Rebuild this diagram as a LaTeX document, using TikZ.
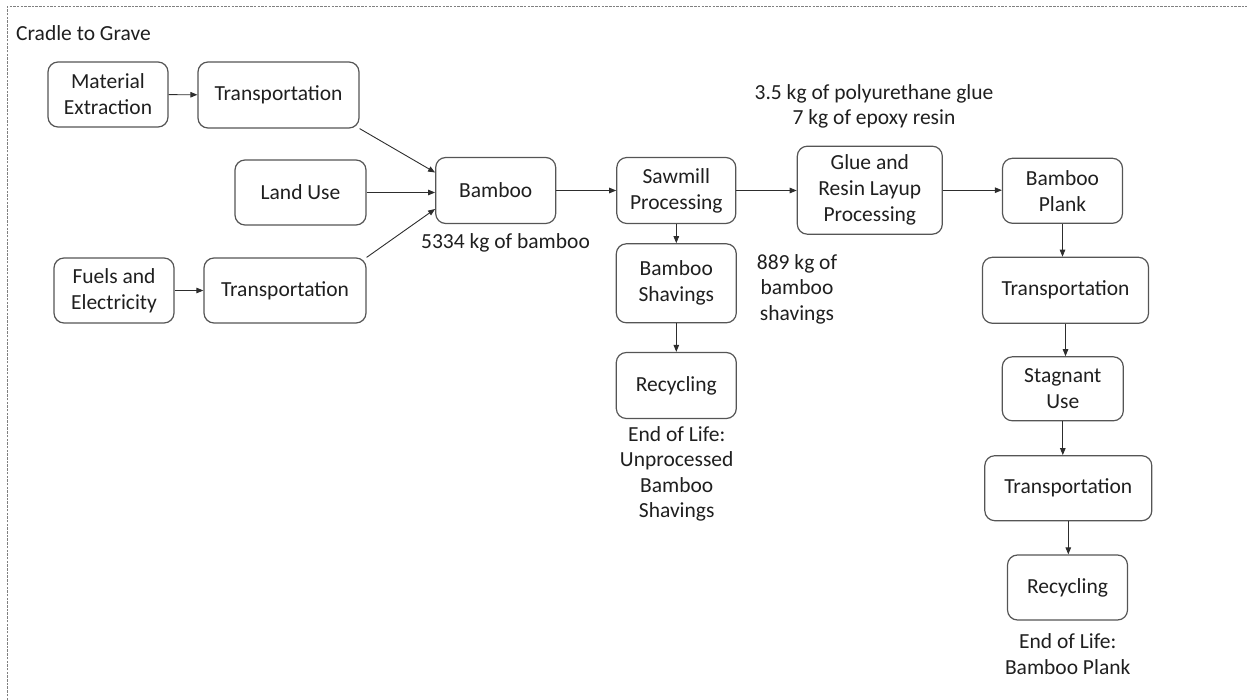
\documentclass[tikz,border=0pt]{standalone}
\usepackage{fontspec}
\setmainfont{Carlito}
\usetikzlibrary{arrows.meta,positioning}

\definecolor{boxgray}{RGB}{85,85,85}
\definecolor{linegray}{RGB}{45,45,45}

\tikzset{
  stage/.style={draw=boxgray, line width=1.2pt, rounded corners=10pt, align=center,
    inner sep=1pt, font=\fontsize{21.5}{26}\selectfont, text=black!88},
  arr/.style={draw=linegray, line width=0.9pt, -{Triangle[length=7pt,width=5.5pt]}},
  note/.style={align=center, inner sep=0pt, font=\fontsize{21.5}{25.5}\selectfont, text=black!88}
}

\begin{document}
\begin{tikzpicture}[x=1pt,y=-1pt]
    \useasboundingbox (0,0) rectangle (1247,700);
    \draw[gray, line width=1pt, dash pattern=on 2.5pt off 1.2pt] (7,700) -- (7,7) -- (1247,7);
    \node[note, anchor=west] (title) at (16,33) {Cradle to Grave};

    % inputs
    \node[stage, minimum width=120, minimum height=65] (matext) at (108,94.5) {Material\\Extraction};
    \node[stage, minimum width=161, minimum height=66] (trans1) at (278.5,95) {Transportation};
    \node[stage, minimum width=131, minimum height=65] (landuse) at (300.5,192.5) {Land Use};
    \node[stage, minimum width=120, minimum height=65] (fuels) at (114,290.5) {Fuels and\\Electricity};
    \node[stage, minimum width=162, minimum height=65] (trans2) at (285,290.5) {Transportation};

    % processing
    \node[stage, minimum width=120, minimum height=66] (bamboo) at (495.7,190.5) {Bamboo};
    \node[stage, minimum width=119, minimum height=66] (sawmill) at (676.3,190.5) {Sawmill\\Processing};
    \node[stage, minimum width=120, minimum height=79] (shavings) at (676.3,283.3) {Bamboo\\Shavings};
    \node[stage, minimum width=120, minimum height=66] (recycle1) at (676.3,385.5) {Recycling};
    \node[stage, minimum width=145, minimum height=88] (glue) at (869.8,190.2) {Glue and\\Resin Layup\\Processing};

    % product and use
    \node[stage, minimum width=120, minimum height=65] (plank) at (1062.5,190.8) {Bamboo\\Plank};
    \node[stage, minimum width=166, minimum height=66] (trans3) at (1065.5,290.3) {Transportation};
    \node[stage, minimum width=121, minimum height=64] (stagnant) at (1062.8,388.8) {Stagnant\\Use};
    \node[stage, minimum width=167, minimum height=65] (trans4) at (1068.3,488.2) {Transportation};
    \node[stage, minimum width=120, minimum height=65] (recycle2) at (1067.5,587.5) {Recycling};

    % quantities
    \node[note] (bamboomass) at (505.5,242.5) {5334 kg of bamboo};
    \node[note] (gluemass) at (874,106.5) {3.5 kg of polyurethane glue\\7 kg of epoxy resin};
    \node[note] (shavmass) at (797,289) {889 kg of\\bamboo\\shavings};
    \node[note] (eol1) at (676.7,474) {End of Life:\\Unprocessed\\Bamboo\\Shavings};
    \node[note] (eol2) at (1067.7,654) {End of Life:\\Bamboo Plank};

    % flows
    \draw[arr] (matext) -- (trans1);
    \draw[arr] (fuels) -- (trans2);
    \draw[arr] (trans1.south east) -- ([yshift=18pt]bamboo.west);
    \draw[arr] (landuse.east) -- (landuse.east -| bamboo.west);
    \draw[arr] (trans2.north east) -- ([yshift=-18.5pt]bamboo.west);
    \draw[arr] (bamboo) -- (sawmill);
    \draw[arr] (sawmill.east) -- (sawmill.east -| glue.west);
    \draw[arr] (glue.east) -- (glue.east -| plank.west);
    \draw[arr] (sawmill.south) -- (sawmill.south |- shavings.north);
    \draw[arr] (shavings.south) -- (shavings.south |- recycle1.north);
    \draw[arr] (plank.south) -- (plank.south |- trans3.north);
    \draw[arr] (trans3.south) -- (trans3.south |- stagnant.north);
    \draw[arr] (stagnant.south) -- (stagnant.south |- trans4.north);
    \draw[arr] (trans4.south) -- (trans4.south |- recycle2.north);
\end{tikzpicture}
\end{document}
